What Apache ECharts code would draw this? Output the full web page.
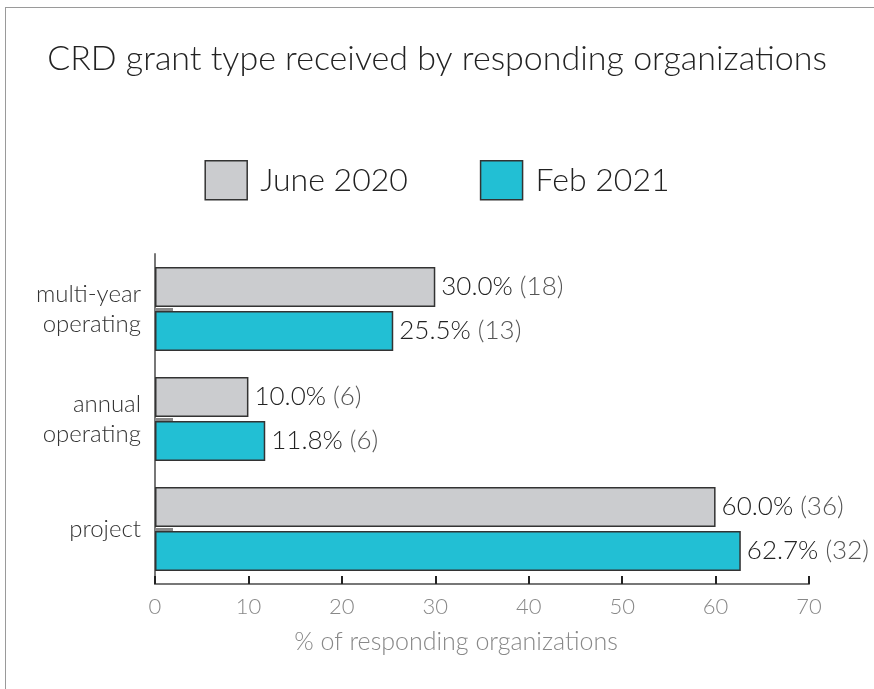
<!DOCTYPE html>
<html>
<head>
<meta charset="utf-8">
<script src="https://cdn.jsdelivr.net/npm/echarts@6/dist/echarts.min.js"></script>
<style>
  html, body { margin: 0; padding: 0; background: #fff; }
  #frame { position: absolute; left: 5px; top: 7px; right: 0; bottom: 0;
           border-left: 1.5px solid #9a9a9a; border-top: 1.5px solid #9a9a9a; }
  #chart { position: absolute; left: 0; top: 0; width: 874px; height: 689px; }
</style>
</head>
<body>
<div id="frame"></div>
<div id="chart"></div>
<script>
// categories top to bottom
const categories = ['multi-year\noperating', 'annual\noperating', 'project'];
const seriesNames = ['June 2020', 'Feb 2021'];
const june2020 = [30.0, 10.0, 60.0];
const feb2021 = [25.5, 11.8, 62.7];
const june2020Counts = [18, 6, 36];
const feb2021Counts = [13, 6, 32];

const font = 'Lato';
const light = 300;
const chart = echarts.init(document.getElementById('chart'));

function valueLabel(counts) {
    return {
        show: true,
        position: 'right',
        distance: 6,
        formatter: p => `{v|${p.value.toFixed(1)}%}{n|(${counts[p.dataIndex]})}`,
        rich: {
            v: { fontFamily: font, fontWeight: light, fontSize: 26, color: '#222' },
            n: { fontFamily: font, fontWeight: light, fontSize: 26, color: '#555', padding: [0, 0, 0, 7] }
        }
    };
}

chart.setOption({
    backgroundColor: 'transparent',
    animation: false,
    title: {
        text: 'CRD grant type received by responding organizations',
        left: 'center',
        top: 37,
        textStyle: { fontFamily: font, fontSize: 34, fontWeight: light, color: '#222' }
    },
    legend: {
        data: seriesNames,
        top: 155,
        left: 'center',
        itemWidth: 42,
        itemHeight: 39,
        itemGap: 72,
        icon: 'rect',
        itemStyle: { borderColor: '#333', borderWidth: 1.5 },
        textStyle: { fontFamily: font, fontWeight: light, fontSize: 32, color: '#222', padding: [0, 0, 0, 8] }
    },
    grid: { left: 155, right: 65, top: 254, bottom: 105, containLabel: false },
    xAxis: {
        type: 'value',
        min: 0,
        max: 70,
        interval: 10,
        name: '% of responding organizations',
        nameLocation: 'middle',
        nameGap: 45,
        nameTextStyle: { fontFamily: font, fontWeight: light, fontSize: 25, color: '#888', padding: [0, 52, 0, 0] },
        axisLine: { show: true, lineStyle: { color: '#777', width: 2 } },
        axisTick: { show: true, inside: true, length: 8, lineStyle: { color: '#222', width: 2 } },
        axisLabel: { fontFamily: font, fontWeight: light, fontSize: 22, color: '#888', margin: 12 },
        splitLine: { show: false }
    },
    yAxis: {
        type: 'category',
        data: categories,
        inverse: true,
        axisLine: { show: true, lineStyle: { color: '#777', width: 2 } },
        axisTick: { show: true, inside: true, alignWithLabel: true, length: 18, lineStyle: { color: '#888', width: 3 } },
        axisLabel: { fontFamily: font, fontWeight: light, fontSize: 24, color: '#333', margin: 14, lineHeight: 30, align: 'right' }
    },
    series: [
        {
            name: seriesNames[0],
            type: 'bar',
            data: june2020,
            barWidth: 40,
            barGap: '10%',
            itemStyle: { color: '#cbcccf', borderColor: '#333', borderWidth: 1.5 },
            label: valueLabel(june2020Counts)
        },
        {
            name: seriesNames[1],
            type: 'bar',
            data: feb2021,
            barWidth: 40,
            barGap: '10%',
            itemStyle: { color: '#22bfd4', borderColor: '#333', borderWidth: 1.5 },
            label: valueLabel(feb2021Counts)
        }
    ]
});
</script>
</body>
</html>
